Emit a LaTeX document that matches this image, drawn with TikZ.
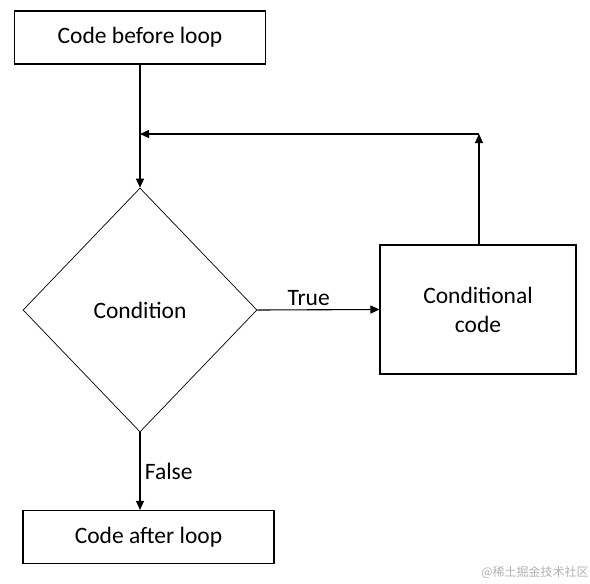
\documentclass[tikz,border=0pt]{standalone}
\usepackage{fontspec}
\setmainfont{Carlito}
\newfontfamily\cjk{Noto Sans CJK SC}
\usetikzlibrary{shapes.geometric,arrows.meta}
\begin{document}
\begin{tikzpicture}[x=1pt,y=-1pt,
  box/.style={draw,line width=1.1pt,minimum width=#1,inner sep=0pt},
  lbl/.style={font=\fontsize{23.5}{29}\selectfont},
  conn/.style={line width=1.1pt,-{Triangle[length=9pt,width=8pt]}},
  every node/.style={text=black}]
\useasboundingbox (0,0) rectangle (590,584);
\node[box=251pt,minimum height=53pt,lbl] (before) at (140,37.5) {Code before loop};
\node[draw,line width=0.7pt,diamond,minimum width=234pt,minimum height=244pt,inner sep=0pt,lbl] (cond) at (140,310) {Condition};
\node[box=196pt,minimum height=129pt,lbl,align=center] (cc) at (478,309.5) {Conditional\\code};
\node[box=251pt,minimum height=53pt,lbl] (after) at (148.5,537) {Code after loop};
\coordinate (tr) at (479,134);
\coordinate (tl) at (140,134);
\draw[conn] (before.south -| tl) -- (cond.north);
\draw[conn] (cc.north -| tr) -- (tr);
\draw[conn] (tr) -- (tl);
\draw[conn] (cond.east) -- node[above,lbl,pos=0.42,yshift=0pt] (ttrue) {True} (cc.west);
\draw[conn] (cond.south) -- node[right,lbl,pos=0.5,xshift=1pt] (tfalse) {False} (cond.south |- after.north);
\node[text=black!30,font=\cjk\fontsize{12}{14}\selectfont] (wm) at (535,572) {@稀土掘金技术社区};
\end{tikzpicture}
\end{document}
